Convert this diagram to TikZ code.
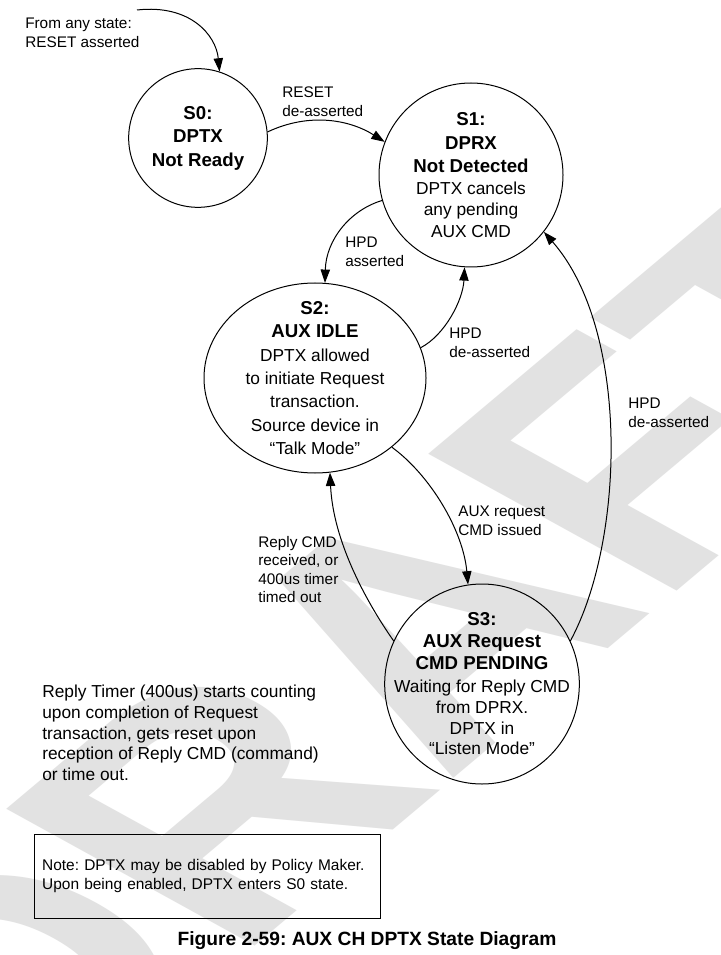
\documentclass[tikz,border=0pt]{standalone}
\usepackage{fontspec}
\setmainfont{Liberation Sans}
\frenchspacing
\usetikzlibrary{arrows.meta,shapes.geometric}
\definecolor{wmgray}{RGB}{226,226,226}
\newcommand{\sthd}{\fontsize{14}{16}\selectfont\bfseries}
\newcommand{\stbd}{\fontsize{13}{16}\selectfont\mdseries}

\begin{document}
\begin{tikzpicture}[
  x=0.75pt, y=-0.75pt,
  state/.style={ellipse, draw, line width=0.75pt, inner sep=0pt},
  stext/.style={align=center, inner sep=0pt, font=\stbd},
  lbl/.style={anchor=north west, align=left, inner sep=0pt,
              font=\fontsize{11.5}{13.9}\selectfont},
  arr/.style={-{Triangle[length=10pt, width=7pt]}, line width=0.75pt}
]
\useasboundingbox (0,0) rectangle (720,955);
\fill[white] (0,0) rectangle (720,955);

% Watermark
\begin{scope}
\clip (0,0) rectangle (720,955);
\begin{scope}[shift={(395,655)}, xscale=1.47]
\node[text=wmgray, transform shape, rotate=51, inner sep=0pt,
      font=\fontsize{237}{237}\selectfont\bfseries] (wm) at (0,0) {DRAFT};
\end{scope}
\end{scope}

% States
\node[state, minimum width=104pt, minimum height=104pt]     (s0) at (198,138) {};
\node[state, minimum width=138pt, minimum height=138pt]     (s1) at (471,175) {};
\node[state, minimum width=166.5pt, minimum height=142.5pt] (s2) at (315,378) {};
\node[state, minimum width=146pt, minimum height=150pt]     (s3) at (482,684) {};

\node[stext, font=\sthd] (s0t) at (s0) {S0:\\[1.6pt]DPTX\\[1.6pt]Not Ready};
\node[stext] (s1t) at (s1) {\sthd S1:\\[1.6pt]\sthd DPRX\\[1.6pt]\sthd Not Detected\\[0.5pt]
  DPTX cancels\\any pending\\AUX CMD};
\node[stext] (s2t) at (s2) {\sthd S2:\\[1.5pt]\sthd AUX IDLE\\[1.5pt]
  DPTX allowed\\[1.5pt]to initiate Request\\[1.5pt]transaction.\\[1.5pt]
  Source device in\\[1.5pt]``Talk Mode''};
\node[stext] (s3t) at (s3) {\sthd S3:\\[0.5pt]\sthd AUX Request\\[0.5pt]\sthd CMD PENDING\\[1.2pt]
  Waiting for Reply CMD\\[-0.5pt]from DPRX.\\[-0.5pt]DPTX in\\[-0.5pt]``Listen Mode''};

% Transitions
\coordinate (rst) at (137,10);
\draw[arr] (rst) .. controls (190,4) and (216,35) .. (s0.72);
\draw[arr] (s0.5) .. controls (310,112) and (350,120) .. (s1.159);
\draw[arr] (s1.196) .. controls (350,210) and (326,240) .. (s2.84);
\draw[arr] (s2.16) .. controls (445,335) and (463,300) .. (s1.266);
\draw[arr] (s2.318) .. controls (430,475) and (463,530) .. (s3.98);
\draw[arr] (s3.154) .. controls (365,600) and (333,540) .. (s2.279);
\draw[arr] (s3.26) .. controls (625,540) and (630,330) .. (s1.322);

% Labels
\node[lbl] (lrst)  at (25,18)   {From any state:\\RESET asserted};
\node[lbl] (lrsd)  at (282,87)  {RESET\\de-asserted};
\node[lbl] (lhpa)  at (345,237) {HPD\\asserted};
\node[lbl] (lhpd)  at (449,328) {HPD\\de-asserted};
\node[lbl] (lhpd3) at (628,398) {HPD\\de-asserted};
\node[lbl] (lreq)  at (458,506) {AUX request\\CMD issued};
\node[lbl] (lrep)  at (258,536) {Reply CMD\\received, or\\400us timer\\timed out};

% Notes
\node[lbl, font=\fontsize{13}{15.5}\selectfont] (timer) at (42,685)
  {Reply Timer (400us) starts counting\\upon completion of Request\\
   transaction, gets reset upon\\reception of Reply CMD (command)\\or time out.};
\node[draw, line width=0.75pt, inner xsep=6pt, inner ysep=0pt,
      text width=248pt, minimum height=63pt, align=left,
      font=\fontsize{11.6}{14.25}\selectfont] (note) at (207.5,876)
  {Note: DPTX may be disabled by Policy Maker.\\Upon being enabled, DPTX enters S0 state.};

% Caption
\node[inner sep=0pt, font=\fontsize{14.4}{17}\selectfont\bfseries] (cap) at (367,941)
  {Figure 2-59: AUX CH DPTX State Diagram};
\end{tikzpicture}
\end{document}
